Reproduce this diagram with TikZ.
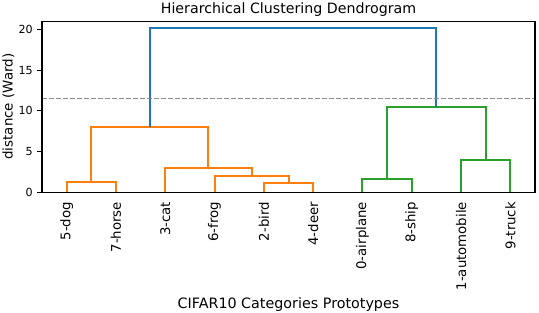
\documentclass[tikz,border=0pt]{standalone}
\usepackage{fontspec}
\setmainfont{DejaVu Sans}
\definecolor{TabBlue}{HTML}{1F77B4}
\definecolor{TabOrange}{HTML}{FF7F0E}
\definecolor{TabGreen}{HTML}{2CA02C}
\definecolor{CutGray}{HTML}{8C8C8C}
\begin{document}
\begin{tikzpicture}[
  x=4.93bp, y=8.15bp,
  every node/.style={inner sep=0pt, outer sep=0pt},
  link/.style={line width=2bp, line cap=butt, line join=miter},
  spine/.style={line width=1.07bp, draw=black},
  tickmark/.style={line width=1.07bp, draw=black},
  ticklab/.style={anchor=east, font=\fontsize{11.1bp}{13bp}\selectfont},
  leaflab/.style={rotate=90, anchor=east, font=\fontsize{13.3bp}{16bp}\selectfont},
  axlab/.style={font=\fontsize{13.4bp}{16bp}\selectfont},
  cutline/.style={line width=1.33bp, draw=CutGray, dash pattern=on 4.9bp off 2.1bp},
]
\useasboundingbox (-8.519,-14.687) rectangle (100.81,23.595);
% leaves, in dendrogram order
\foreach \nm/\txt [count=\i from 0] in {dog/5-dog, horse/7-horse, cat/3-cat,
    frog/6-frog, bird/2-bird, deer/4-deer, airplane/0-airplane, ship/8-ship,
    automobile/1-automobile, truck/9-truck}
{
  \coordinate (\nm) at (5+10*\i,0);
  \node[leaflab] (\nm lab) at (5+10*\i,-1.19) {\txt};
}
% merge points (x = mean of children, y = Ward distance)
\coordinate (dh)   at (10,1.3);
\coordinate (bd)   at (50,1.15);
\coordinate (fbd)  at (42.5,2.04);
\coordinate (cfbd) at (33.75,2.94);
\coordinate (orng) at (21.875,8.05);
\coordinate (as)   at (70,1.6);
\coordinate (at)   at (90,3.93);
\coordinate (grn)  at (80,10.47);
\coordinate (root) at (50.94,20.1);
% orange cluster
\draw[link,TabOrange] (dog)  |- (dh)   -| (horse);
\draw[link,TabOrange] (bird) |- (bd)   -| (deer);
\draw[link,TabOrange] (frog) |- (fbd)  -| (bd);
\draw[link,TabOrange] (cat)  |- (cfbd) -| (fbd);
\draw[link,TabOrange] (dh)   |- (orng) -| (cfbd);
% green cluster
\draw[link,TabGreen] (airplane)   |- (as)  -| (ship);
\draw[link,TabGreen] (automobile) |- (at)  -| (truck);
\draw[link,TabGreen] (as)         |- (grn) -| (at);
% above the cut
\draw[link,TabBlue] (orng) |- (root) -| (grn);
% cut threshold
\coordinate (cutL) at (0,11.5);
\coordinate (cutR) at (100,11.5);
\draw[cutline] (cutL) -- (cutR);
% axes frame and y ticks
\draw[spine] (0,0) rectangle (100,21);
\foreach \v in {0,5,...,20}
{
  \draw[tickmark] (0,\v) -- ++(-4.67bp,0);
  \node[ticklab] (tick\v) at ([xshift=-9.3bp]0,\v) {\v};
}
% labels
\node[axlab, font=\fontsize{14.2bp}{17bp}\selectfont, anchor=base] (title) at (50,22.0) {Hierarchical Clustering Dendrogram};
\node[axlab, font=\fontsize{14.3bp}{17bp}\selectfont, anchor=base] (xlab) at (50,-14.2) {CIFAR10 Categories Prototypes};
\node[axlab, rotate=90, anchor=base] (ylab) at (-5.98,10.5) {distance (Ward)};
\end{tikzpicture}
\end{document}
